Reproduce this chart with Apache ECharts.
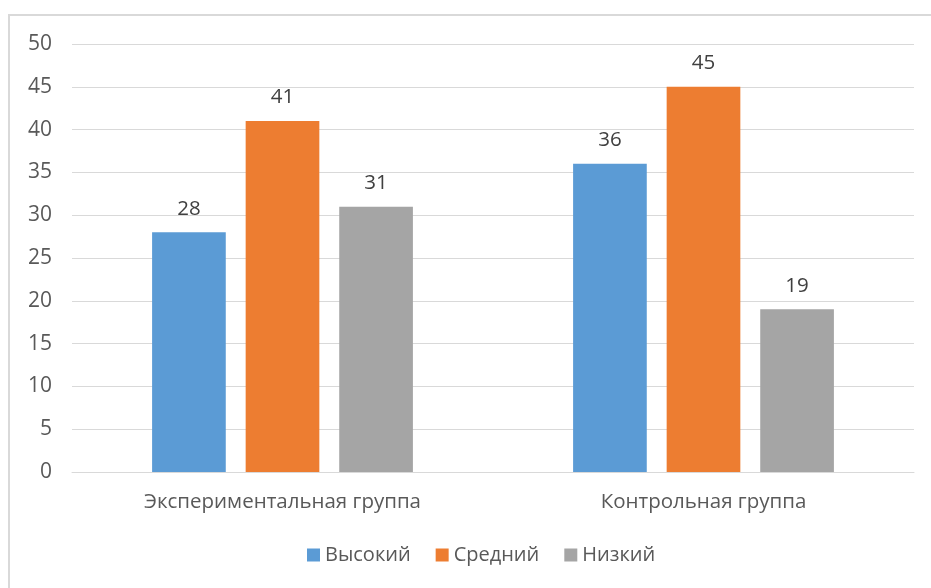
<!DOCTYPE html>
<html><head><meta charset="utf-8">
<script src="https://cdn.jsdelivr.net/npm/echarts@6/dist/echarts.min.js"></script>
<style>html,body{margin:0;padding:0;background:#fff}#frame{position:absolute;left:8px;top:14px;width:940px;height:600px;border:2px solid #d9d9d9;box-sizing:border-box}#c{position:absolute;left:0;top:0;width:931px;height:588px}</style>
</head><body><div id="frame"></div><div id="c"></div>
<script>
const categories = ['Экспериментальная группа', 'Контрольная группа'];
const seriesNames = ['Высокий', 'Средний', 'Низкий'];
const high = [28, 36];
const medium = [41, 45];
const low = [31, 19];
const yTicks = [0, 50, 5];
const colors = ['#5b9bd5', '#ed7d31', '#a5a5a5'];
const font = '"Open Sans", sans-serif';
const chart = echarts.init(document.getElementById('c'));
const mk = (name, data, color) => ({
  name, type: 'bar', data, barWidth: '17.5%', barGap: '27%',
  itemStyle: { color },
  label: { show: true, position: 'top', distance: 13, color: '#404040', fontSize: 20.5, fontFamily: font }
});
chart.setOption({
  animation: false,
  grid: { left: 72, right: 17, top: 44, bottom: 116, containLabel: false },
  legend: {
    left: 302, bottom: 18, itemWidth: 13, itemHeight: 13, itemGap: 25, icon: 'rect',
    textStyle: { color: '#595959', fontSize: 20, fontFamily: font }
  },
  xAxis: {
    type: 'category', data: categories,
    axisLine: { show: true, lineStyle: { color: '#d9d9d9' } }, axisTick: { show: false },
    axisLabel: { color: '#595959', fontSize: 20.5, fontFamily: font, margin: 20 }
  },
  yAxis: {
    type: 'value', min: yTicks[0], max: yTicks[1], interval: yTicks[2],
    axisLine: { show: false }, axisTick: { show: false },
    splitLine: { lineStyle: { color: '#d9d9d9', width: 1 } },
    axisLabel: { color: '#595959', fontSize: 21, fontFamily: font, margin: 20 }
  },
  series: [mk(seriesNames[0], high, colors[0]), mk(seriesNames[1], medium, colors[1]), mk(seriesNames[2], low, colors[2])]
});
</script></body></html>
